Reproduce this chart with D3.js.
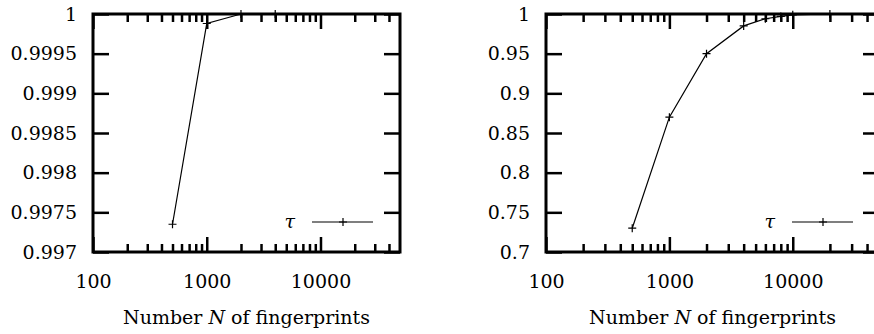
<!DOCTYPE html>
<html>
<head>
<meta charset="utf-8">
<script src="https://cdn.jsdelivr.net/npm/d3@7"></script>
<style>
  body { margin: 0; background: #fff; }
</style>
</head>
<body>
<svg id="chart" width="874" height="334"></svg>
<script>
// data
const leftN = [500, 1000, 2000, 4000]
const leftTau = [0.99735, 0.99988, 1.0, 1.0]
const rightN = [500, 1000, 2000, 4000, 6000, 8000, 10000, 20000]
const rightTau = [0.730, 0.870, 0.950, 0.985, 0.994, 0.997, 0.999, 1.0]

const xMajor = [100, 1000, 10000]
const xMinor = [200, 300, 400, 500, 600, 700, 800, 900,
    2000, 3000, 4000, 5000, 6000, 7000, 8000, 9000, 20000, 30000, 40000]
const leftYTicks = [0.997, 0.9975, 0.998, 0.9985, 0.999, 0.9995, 1]
const rightYTicks = [0.7, 0.75, 0.8, 0.85, 0.9, 0.95, 1]

const FONT = "'DejaVu Serif', 'Liberation Serif', serif"
const svg = d3.select('#chart')

function drawPanel(box, xs, ys, yTicks, yDomain, legendX) {
    const g = svg.append('g').attr('transform', `translate(${box.left}, ${box.top})`)
    const width = box.right - box.left
    const height = box.bottom - box.top

    const scaleX = d3.scaleLog().domain([100, 50000]).range([0, width])
    const scaleY = d3.scaleLinear().domain(yDomain).range([height, 0])
    const fmt = d3.format('~g')

    // major ticks, inward on all sides
    g.append('g').attr('transform', `translate(0, ${height})`)
        .call(d3.axisBottom(scaleX).tickValues(xMajor).tickSizeInner(-15).tickSizeOuter(0)
            .tickPadding(23).tickFormat(d3.format('d')))
    g.append('g')
        .call(d3.axisTop(scaleX).tickValues(xMajor).tickSizeInner(-15).tickSizeOuter(0).tickFormat(''))
    g.append('g')
        .call(d3.axisLeft(scaleY).tickValues(yTicks).tickSizeInner(-16).tickSizeOuter(0)
            .tickPadding(16).tickFormat(fmt))
    g.append('g').attr('transform', `translate(${width}, 0)`)
        .call(d3.axisRight(scaleY).tickValues(yTicks).tickSizeInner(-16).tickSizeOuter(0).tickFormat(''))

    // minor x ticks
    g.append('g').attr('transform', `translate(0, ${height})`)
        .call(d3.axisBottom(scaleX).tickValues(xMinor).tickSizeInner(-8).tickSizeOuter(0).tickFormat(''))
    g.append('g')
        .call(d3.axisTop(scaleX).tickValues(xMinor).tickSizeInner(-8).tickSizeOuter(0).tickFormat(''))

    g.selectAll('.domain').remove()
    g.selectAll('g').attr('font-family', FONT)
    g.selectAll('.tick line').attr('stroke', '#000').attr('stroke-width', 2.5)
    g.selectAll('.tick text').attr('font-family', FONT).attr('font-size', 19).attr('fill', '#000')

    g.append('rect')
        .attr('width', width).attr('height', height)
        .attr('fill', 'none').attr('stroke', '#000').attr('stroke-width', 3)

    const pts = xs.map((x, i) => [scaleX(x), scaleY(ys[i])])
    g.append('path')
        .attr('d', d3.line()(pts))
        .attr('fill', 'none').attr('stroke', '#000').attr('stroke-width', 1.2)

    g.selectAll('path.pt').data(pts).join('path')
        .attr('class', 'pt')
        .attr('transform', d => `translate(${d[0]}, ${d[1]})`)
        .attr('d', 'M-4,0H4M0,-4V4')
        .attr('stroke', '#000').attr('stroke-width', 1.2)

    // legend
    const ly = 208
    g.append('text').attr('x', legendX - 2).attr('y', ly).attr('dy', '0.32em')
        .attr('text-anchor', 'end').attr('font-family', FONT).attr('font-size', 19)
        .attr('font-style', 'italic')
        .text('τ')
    g.append('line').attr('x1', legendX + 15).attr('x2', legendX + 76)
        .attr('y1', ly).attr('y2', ly).attr('stroke', '#000').attr('stroke-width', 1.2)
    g.append('path').attr('transform', `translate(${legendX + 46}, ${ly})`)
        .attr('d', 'M-4,0H4M0,-4V4').attr('stroke', '#000').attr('stroke-width', 1.2)

    g.append('text')
        .attr('x', width / 2).attr('y', height + 72)
        .attr('text-anchor', 'middle').attr('font-family', FONT).attr('font-size', 19)
        .html('Number <tspan font-style="italic">N</tspan> of fingerprints')
}

drawPanel({ left: 93, right: 400, top: 14, bottom: 252 }, leftN, leftTau, leftYTicks, [0.997, 1], 204)
drawPanel({ left: 546, right: 879, top: 14, bottom: 252 }, rightN, rightTau, rightYTicks, [0.7, 1], 231)
</script>
</body>
</html>
